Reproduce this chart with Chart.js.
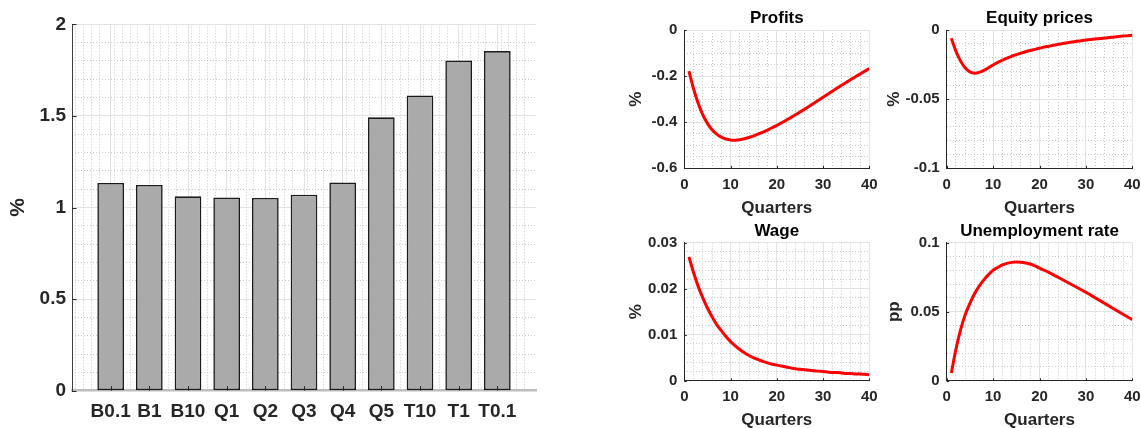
<!DOCTYPE html>
<html>
<head>
<meta charset="utf-8">
<script src="https://cdn.jsdelivr.net/npm/chart.js@4"></script>
<style>
  html, body { margin: 0; padding: 0; background: #fff; overflow: hidden; width: 1141px; height: 428px; }
  canvas { position: absolute; }
</style>
</head>
<body>
<script>
// --- donnees du graphique en barres ---
const categories = ['B0.1', 'B1', 'B10', 'Q1', 'Q2', 'Q3', 'Q4', 'Q5', 'T10', 'T1', 'T0.1'];
const barValues = [1.134, 1.123, 1.061, 1.055, 1.052, 1.070, 1.137, 1.492, 1.612, 1.803, 1.854];
const barTicks = [0, 0.5, 1, 1.5, 2];

// --- donnees des reponses (trimestres 1..40) ---
const quarters = [1, 2, 3, 4, 5, 6, 7, 8, 9, 10, 11, 12, 13, 14, 15, 16, 17, 18, 19, 20,
                  21, 22, 23, 24, 25, 26, 27, 28, 29, 30, 31, 32, 33, 34, 35, 36, 37, 38, 39, 40];
const profits = [-0.178, -0.255, -0.318, -0.368, -0.405, -0.433, -0.452, -0.465, -0.473, -0.477,
                 -0.478, -0.476, -0.472, -0.466, -0.459, -0.451, -0.443, -0.434, -0.424, -0.414,
                 -0.403, -0.392, -0.380, -0.368, -0.356, -0.344, -0.331, -0.318, -0.305, -0.292,
                 -0.279, -0.266, -0.253, -0.240, -0.228, -0.215, -0.203, -0.191, -0.179, -0.167];
const equityPrices = [-0.006, -0.0155, -0.0225, -0.0275, -0.0303, -0.0312, -0.0306, -0.0292, -0.0273, -0.0253,
                      -0.0234, -0.0218, -0.0203, -0.0190, -0.0178, -0.0167, -0.0157, -0.0148, -0.0140, -0.0132,
                      -0.0124, -0.0117, -0.0110, -0.0104, -0.0098, -0.0092, -0.0087, -0.0082, -0.0077, -0.0073,
                      -0.0069, -0.0065, -0.0061, -0.0058, -0.0055, -0.0050, -0.0047, -0.0044, -0.0041, -0.0038];
const wage = [0.0269, 0.0235, 0.0205, 0.0180, 0.0158, 0.0139, 0.0122, 0.0109, 0.0096, 0.0085,
              0.0076, 0.0068, 0.0061, 0.0055, 0.0050, 0.0046, 0.0042, 0.0039, 0.0036, 0.0034,
              0.0032, 0.0030, 0.0028, 0.0026, 0.0025, 0.0024, 0.0023, 0.0022, 0.0021, 0.0020,
              0.0019, 0.0018, 0.0018, 0.0017, 0.0016, 0.0016, 0.0015, 0.0015, 0.0014, 0.0013];
const unemployment = [0.0056, 0.023, 0.037, 0.048, 0.056, 0.063, 0.0685, 0.073, 0.0768, 0.080,
                      0.082, 0.0838, 0.085, 0.0857, 0.086, 0.0858, 0.0853, 0.0845, 0.0832, 0.0815,
                      0.0800, 0.0784, 0.0767, 0.0749, 0.0731, 0.0713, 0.0695, 0.0677, 0.0659, 0.0641,
                      0.0621, 0.0601, 0.0581, 0.0561, 0.0541, 0.0521, 0.0501, 0.0481, 0.0462, 0.0443];

const quarterTicks = [0, 10, 20, 30, 40];
const profitsTicks = [-0.6, -0.4, -0.2, 0];
const equityTicks = [-0.1, -0.05, 0];
const wageTicks = [0, 0.01, 0.02, 0.03];
const unempTicks = [0, 0.05, 0.1];

// --- styles communs ---
const FONT = "'Liberation Sans', Arial, Helvetica, sans-serif";
const TICK_COLOR = '#262626';
const GRID = '#e2e2e2';
const MINOR = '#c9c9c9';

Chart.defaults.font.family = FONT;
Chart.defaults.animation = false;

// petites graduations vers l'interieur (comme matlab)
const innerTicks = {
    id: 'innerTicks',
    afterDraw(chart, args, opts) {
        const ctx = chart.ctx;
        const x = chart.scales.x, y = chart.scales.y;
        const L = opts.length || 3;
        ctx.save();
        ctx.strokeStyle = TICK_COLOR;
        ctx.lineWidth = 1;
        ctx.beginPath();
        x.ticks.forEach(t => {
            const px = Math.round(x.getPixelForValue(t.value)) + 0.5;
            ctx.moveTo(px, x.top); ctx.lineTo(px, x.top - L);
        });
        y.ticks.forEach(t => {
            const py = Math.round(y.getPixelForValue(t.value)) + 0.5;
            ctx.moveTo(y.right, py); ctx.lineTo(y.right + L, py);
        });
        ctx.stroke();
        ctx.restore();
    }
};

function addCanvas(left, top, w, h) {
    const c = document.createElement('canvas');
    c.width = w; c.height = h;
    c.style.left = left + 'px';
    c.style.top = top + 'px';
    c.style.width = w + 'px';
    c.style.height = h + 'px';
    document.body.appendChild(c);
    return c;
}

function fmt(v) { return String(+v.toFixed(4)); }
function isMajor(v, step) { const r = v / step; return Math.abs(r - Math.round(r)) < 1e-6; }

// axe secondaire, seulement pour la grille mineure en pointilles
function minorAxis(pos, min, max, step, majorStep) {
    return {
        type: 'linear', position: pos, min: min, max: max, offset: false,
        ticks: { display: false, stepSize: step },
        grid: {
            color: ctx => (ctx.tick && isMajor(ctx.tick.value, majorStep)) ? 'rgba(0,0,0,0)' : MINOR,
            drawTicks: false, lineWidth: 1
        },
        border: { display: false, color: MINOR, dash: [1, 2] },
        afterFit: s => { if (pos === 'left') s.width = 0; else s.height = 0; }
    };
}

// --- graphique en barres (gauche) ---
new Chart(addCanvas(0, 0, 560, 428), {
    type: 'bar',
    data: {
        datasets: [{
            data: barValues.map((v, i) => ({ x: i + 1, y: v })),
            backgroundColor: '#aaaaaa',
            borderColor: '#1a1a1a',
            borderWidth: 1.6,
            borderSkipped: false,
            categoryPercentage: 1,
            barPercentage: 0.69
        }]
    },
    plugins: [innerTicks],
    options: {
        responsive: false,
        layout: { padding: { top: 24.3, right: 24, left: 0, bottom: 0 } },
        plugins: { legend: { display: false }, tooltip: { enabled: false }, innerTicks: { length: 4.5 } },
        scales: {
            x: {
                type: 'linear', min: 0, max: 12, offset: false,
                afterBuildTicks: s => { s.ticks = categories.map((c, i) => ({ value: i + 1 })); },
                afterFit: s => { s.height = 37.3; },
                ticks: {
                    callback: v => categories[Math.round(v) - 1],
                    autoSkip: false, maxRotation: 0, minRotation: 0, padding: 9.6,
                    color: TICK_COLOR, font: { size: 19, weight: 'bold' }
                },
                grid: { color: GRID, drawTicks: false, offset: false },
                border: { color: '#bdbdbd', width: 2.5 }
            },
            xm: minorAxis('bottom', 0, 12, 0.2, 1),
            y: {
                min: 0, max: 2,
                afterBuildTicks: s => { s.ticks = barTicks.map(v => ({ value: v })); },
                afterFit: s => { s.width = 72; },
                ticks: { callback: fmt, padding: 6, color: TICK_COLOR, font: { size: 19, weight: 'bold' } },
                grid: { color: GRID, drawTicks: false },
                border: { color: '#404040', width: 1 },
                title: { display: true, text: '%', color: TICK_COLOR, font: { size: 21, weight: 'bold' }, padding: { top: 5.4, bottom: 0 } }
            },
            ym: minorAxis('left', 0, 2, 0.1, 0.5)
        }
    }
});

// --- petits graphiques (droite) ---
function smallChart(p) {
    new Chart(addCanvas(p.left, p.top, p.width, p.height), {
        type: 'line',
        data: {
            datasets: [{
                data: quarters.map((q, i) => ({ x: q, y: p.values[i] })),
                borderColor: '#ff0000',
                borderWidth: 3,
                pointRadius: 0,
                tension: 0.35,
                fill: false
            }]
        },
        plugins: [innerTicks],
        options: {
            responsive: false,
            layout: { padding: { top: 0, right: p.padRight, left: 0, bottom: 0 } },
            plugins: {
                legend: { display: false },
                tooltip: { enabled: false },
                innerTicks: { length: 2.5 },
                title: {
                    display: true, text: p.title, color: '#000', fullSize: false,
                    font: { size: 17, weight: 'bold' },
                    padding: { top: p.titleTop, bottom: p.titleBottom }
                }
            },
            scales: {
                x: {
                    type: 'linear', min: 0, max: 40, offset: false,
                    afterBuildTicks: s => { s.ticks = quarterTicks.map(v => ({ value: v })); },
                    afterFit: s => { s.height = p.xHeight; },
                    ticks: { callback: fmt, padding: 7.2, maxRotation: 0, color: TICK_COLOR, font: { size: 15, weight: 'bold' } },
                    grid: { color: GRID, drawTicks: false },
                    border: { color: TICK_COLOR, width: 1 },
                    title: { display: true, text: 'Quarters', color: TICK_COLOR, font: { size: 17, weight: 'bold' }, padding: { top: 0, bottom: p.xTitleBottom } }
                },
                xm: minorAxis('bottom', 0, 40, 2, 10),
                y: {
                    min: p.ymin, max: p.ymax,
                    afterBuildTicks: s => { s.ticks = p.yticks.map(v => ({ value: v })); },
                    afterFit: s => { s.width = p.yWidth; },
                    ticks: { callback: fmt, padding: 7, color: TICK_COLOR, font: { size: 15, weight: 'bold' } },
                    grid: { color: GRID, drawTicks: false },
                    border: { color: TICK_COLOR, width: 1 },
                    title: { display: true, text: p.ylabel, color: TICK_COLOR, font: { size: 17, weight: 'bold' }, padding: { top: 0, bottom: 0 } }
                },
                ym: minorAxis('left', p.ymin, p.ymax, p.yminor, p.ymajor)
            }
        }
    });
}

smallChart({ title: 'Profits', ylabel: '%', values: profits, yticks: profitsTicks,
    ymin: -0.6, ymax: 0, ymajor: 0.2, yminor: 0.05,
    left: 626, top: 0, width: 260, height: 220, padRight: 16.7, yWidth: 58.3,
    titleTop: 8.6, titleBottom: 1.0, xHeight: 51.7, xTitleBottom: 1.6 });

smallChart({ title: 'Equity prices', ylabel: '%', values: equityPrices, yticks: equityTicks,
    ymin: -0.1, ymax: 0, ymajor: 0.05, yminor: 0.01,
    left: 884, top: 0, width: 266, height: 220, padRight: 17.7, yWidth: 62.7,
    titleTop: 8.6, titleBottom: 1.0, xHeight: 51.7, xTitleBottom: 1.6 });

smallChart({ title: 'Wage', ylabel: '%', values: wage, yticks: wageTicks,
    ymin: 0, ymax: 0.03, ymajor: 0.01, yminor: 0.002,
    left: 626, top: 210, width: 260, height: 225, padRight: 16.7, yWidth: 58.3,
    titleTop: 11.2, titleBottom: 1.0, xHeight: 54.2, xTitleBottom: 4.0 });

smallChart({ title: 'Unemployment rate', ylabel: 'pp', values: unemployment, yticks: unempTicks,
    ymin: 0, ymax: 0.1, ymajor: 0.05, yminor: 0.01,
    left: 884, top: 210, width: 266, height: 225, padRight: 17.7, yWidth: 62.7,
    titleTop: 11.2, titleBottom: 1.0, xHeight: 54.2, xTitleBottom: 4.0 });
</script>
</body>
</html>
